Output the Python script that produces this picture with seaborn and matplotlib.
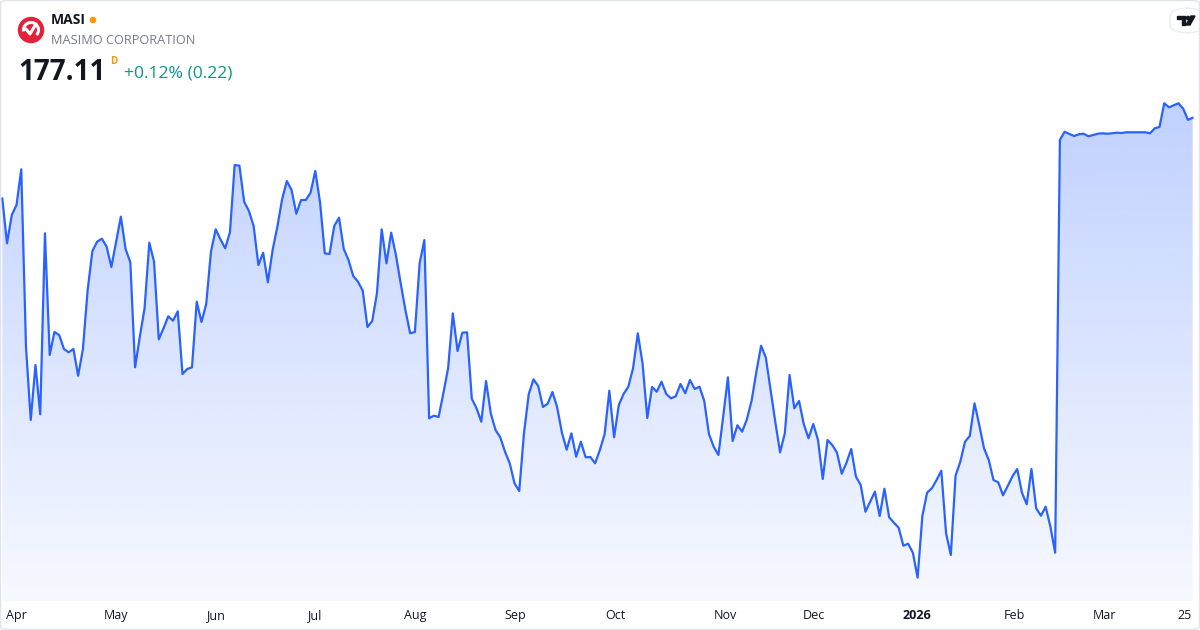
import numpy as np
import pandas as pd
import matplotlib.pyplot as plt
import seaborn as sns
from matplotlib.patches import Polygon, Ellipse, FancyBboxPatch, Arc
from matplotlib.lines import Line2D

# MASI daily close (one value per trading day)
prices = [
    169.05, 164.55, 167.38, 168.38, 171.95, 154.21, 146.88, 152.38, 147.45, 165.55,
    153.38, 155.68, 155.38, 153.98, 153.65, 153.98, 151.31, 153.98, 159.88, 163.78,
    164.71, 165.01, 164.21, 162.18, 164.71, 167.21, 163.98, 162.65, 152.15, 155.21,
    158.05, 164.61, 162.71, 154.95, 156.05, 157.25, 156.81, 157.75, 151.48, 151.98,
    152.15, 158.71, 156.68, 158.48, 163.71, 165.95, 164.95, 164.05, 165.65, 172.38,
    172.31, 168.71, 167.78, 166.28, 162.38, 163.61, 160.65, 163.88, 166.21, 168.95,
    170.78, 169.88, 167.51, 168.88, 168.88, 169.61, 171.78, 168.65, 163.55, 163.48,
    166.28, 167.11, 163.98, 162.88, 161.28, 160.71, 159.81, 156.18, 156.78, 159.55,
    165.95, 162.55, 165.61, 163.38, 160.55, 157.88, 155.55, 155.68, 162.55, 164.88,
    147.05, 147.31, 147.18, 149.55, 152.05, 157.55, 153.78, 155.61, 155.65, 149.01,
    148.05, 146.71, 150.78, 147.55, 145.88, 145.15, 143.71, 142.55, 140.55, 139.78,
    145.55, 149.45, 150.95, 150.28, 148.18, 148.51, 149.68, 148.15, 145.61, 143.91,
    145.55, 143.21, 144.71, 143.15, 143.18, 142.55, 143.88, 145.45, 149.81, 145.15,
    148.38, 149.48, 150.21, 152.05, 155.55, 152.55, 147.08, 150.18, 149.71, 150.71,
    149.48, 149.05, 149.25, 150.48, 149.55, 150.88, 149.98, 150.21, 148.81, 145.48,
    144.21, 143.38, 147.21, 151.15, 144.78, 146.35, 145.71, 146.95, 148.81, 151.71,
    154.31, 153.11, 149.88, 146.65, 143.65, 145.55, 151.38, 148.05, 148.78, 146.45,
    145.05, 146.48, 144.88, 140.98, 144.88, 144.38, 143.61, 141.51, 142.61, 143.98,
    141.21, 140.38, 137.71, 138.71, 139.71, 137.28, 140.01, 137.15, 136.61, 136.11,
    134.31, 134.51, 133.61, 131.11, 137.28, 139.61, 140.05, 140.88, 141.81, 135.55,
    133.38, 141.31, 142.71, 144.71, 145.28, 148.55, 146.38, 144.05, 142.88, 140.88,
    140.65, 139.35, 140.28, 141.25, 141.98, 139.61, 138.45, 141.98, 138.05, 137.31,
    138.21, 136.21, 133.61, 174.88, 175.71, 175.48, 175.28, 175.45, 175.51, 175.25,
    175.38, 175.51, 175.55, 175.51, 175.55, 175.61, 175.58, 175.65, 175.65, 175.65,
    175.65, 175.65, 175.55, 176.05, 176.18, 178.55, 178.15, 178.35, 178.55, 178.01,
    176.89, 177.11,
]

tick_labels = ['Apr', 'May', 'Jun', 'Jul', 'Aug', 'Sep', 'Oct', 'Nov', 'Dec', '2026', 'Feb', 'Mar', '25']
tick_pos = [2.9, 24.0, 44.9, 65.8, 87.1, 108.2, 129.3, 152.4, 171.2, 192.9, 213.4, 232.4, 249.3]

ticker = 'MASI'
company = 'MASIMO CORPORATION'
last_price = '177.11'
change_text = '+0.12% (0.22)'

LINE = '#2962ff'
W, H = 1200, 630

sns.set_theme(style='white')
plt.rcParams['font.family'] = ['Open Sans', 'DejaVu Sans']

df = pd.DataFrame({'day': np.arange(len(prices)), 'close': prices})

fig = plt.figure(figsize=(12, 6.3), dpi=100)
fig.patch.set_facecolor('white')


def fx(x):
    return x / W


def fy(y):
    return 1 - y / H


def dot(x, y, r, color, z=5):
    # round dot in pixel units (figure is not square)
    return Ellipse((fx(x), fy(y)), 2 * r / W, 2 * r / H, transform=fig.transFigure,
                   color=color, zorder=z)


# plot area in pixels: left 1, right 1199, top 90, bottom 601
ax = fig.add_axes([fx(1), fy(601), fx(1198), (601 - 90) / H])
ax.set_facecolor('none')

sns.lineplot(data=df, x='day', y='close', ax=ax, color=LINE, linewidth=1.6, zorder=3)

xmin, xmax = -0.27, len(prices) - 1 + 1.33
ylo, yhi = 128.78, 179.88
ax.set_xlim(xmin, xmax)
ax.set_ylim(ylo, yhi)

# gradient fill under the line
verts = [(0, ylo)] + list(zip(df['day'], df['close'])) + [(len(prices) - 1, ylo)]
clip = Polygon(verts, closed=True, facecolor='none', edgecolor='none')
ax.add_patch(clip)
alpha = np.linspace(0.30, 0.04, 256)
grad = np.zeros((256, 1, 4))
grad[:, 0, 0] = 41 / 255
grad[:, 0, 1] = 98 / 255
grad[:, 0, 2] = 1.0
grad[:, 0, 3] = alpha
im = ax.imshow(grad, extent=[xmin, xmax, ylo, yhi], aspect='auto', origin='upper', zorder=1)
im.set_clip_path(clip)

for s in ax.spines.values():
    s.set_visible(False)
ax.set_yticks([])
ax.set_xlabel('')
ax.set_ylabel('')
ax.set_xticks(tick_pos)
ax.set_xticklabels(tick_labels)
ax.tick_params(axis='x', length=0, pad=6, labelsize=9, labelcolor='#131722')
for lab in ax.get_xticklabels():
    if lab.get_text() == '2026':
        lab.set_fontweight('bold')

# header: logo
fig.patches.append(dot(31, 30, 12.5, '#e2213b'))
fig.patches.append(Arc((fx(31), fy(30)), 15 / W, 15 / H, theta1=-60, theta2=200,
                       transform=fig.transFigure, color='white', lw=2.2, zorder=6))
fig.lines.append(Line2D([fx(26), fx(30), fx(36)], [fy(29), fy(34), fy(24)],
                        transform=fig.transFigure, color='white', lw=2.2, zorder=6))

fig.text(fx(51), fy(20), ticker, fontsize=10, fontweight='bold', color='#131722', va='center')
fig.patches.append(dot(93, 20, 2.6, '#ff9800'))
fig.text(fx(51), fy(40), company, fontsize=9.2, color='#787b86', va='center')
fig.text(fx(18), fy(72), last_price, fontsize=20, fontweight='bold', color='#131722', va='center')
fig.text(fx(110), fy(62), 'D', fontsize=7, color='#ff9800', va='center', fontweight='bold')
fig.text(fx(124), fy(74), change_text, fontsize=12.6, color='#089981', va='center')

# TradingView badge, top right
fig.patches.append(FancyBboxPatch((fx(1170), fy(33)), fx(34), 25 / H,
                                  boxstyle='round,pad=0,rounding_size=0.015',
                                  transform=fig.transFigure, facecolor='white',
                                  edgecolor='#eceef2', lw=1, zorder=5))
fig.patches.append(Polygon([(fx(1177), fy(16)), (fx(1185), fy(16)), (fx(1185), fy(25)),
                            (fx(1182), fy(25)), (fx(1182), fy(19)), (fx(1177), fy(19))],
                           closed=True, transform=fig.transFigure, color='#131722', zorder=6))
fig.patches.append(dot(1188, 18, 1.6, '#131722', z=6))
fig.patches.append(Polygon([(fx(1191), fy(16)), (fx(1195), fy(16)), (fx(1190), fy(25)),
                            (fx(1186), fy(25))],
                           closed=True, transform=fig.transFigure, color='#131722', zorder=6))

# outer frame
fig.patches.append(FancyBboxPatch((0.5 / W, 0.5 / H), 1 - 1 / W, 1 - 1 / H,
                                  boxstyle='round,pad=0,rounding_size=0.006',
                                  transform=fig.transFigure, facecolor='none',
                                  edgecolor='#e0e3eb', lw=1, zorder=10))

fig.savefig('out.png', dpi=100, facecolor='white')
